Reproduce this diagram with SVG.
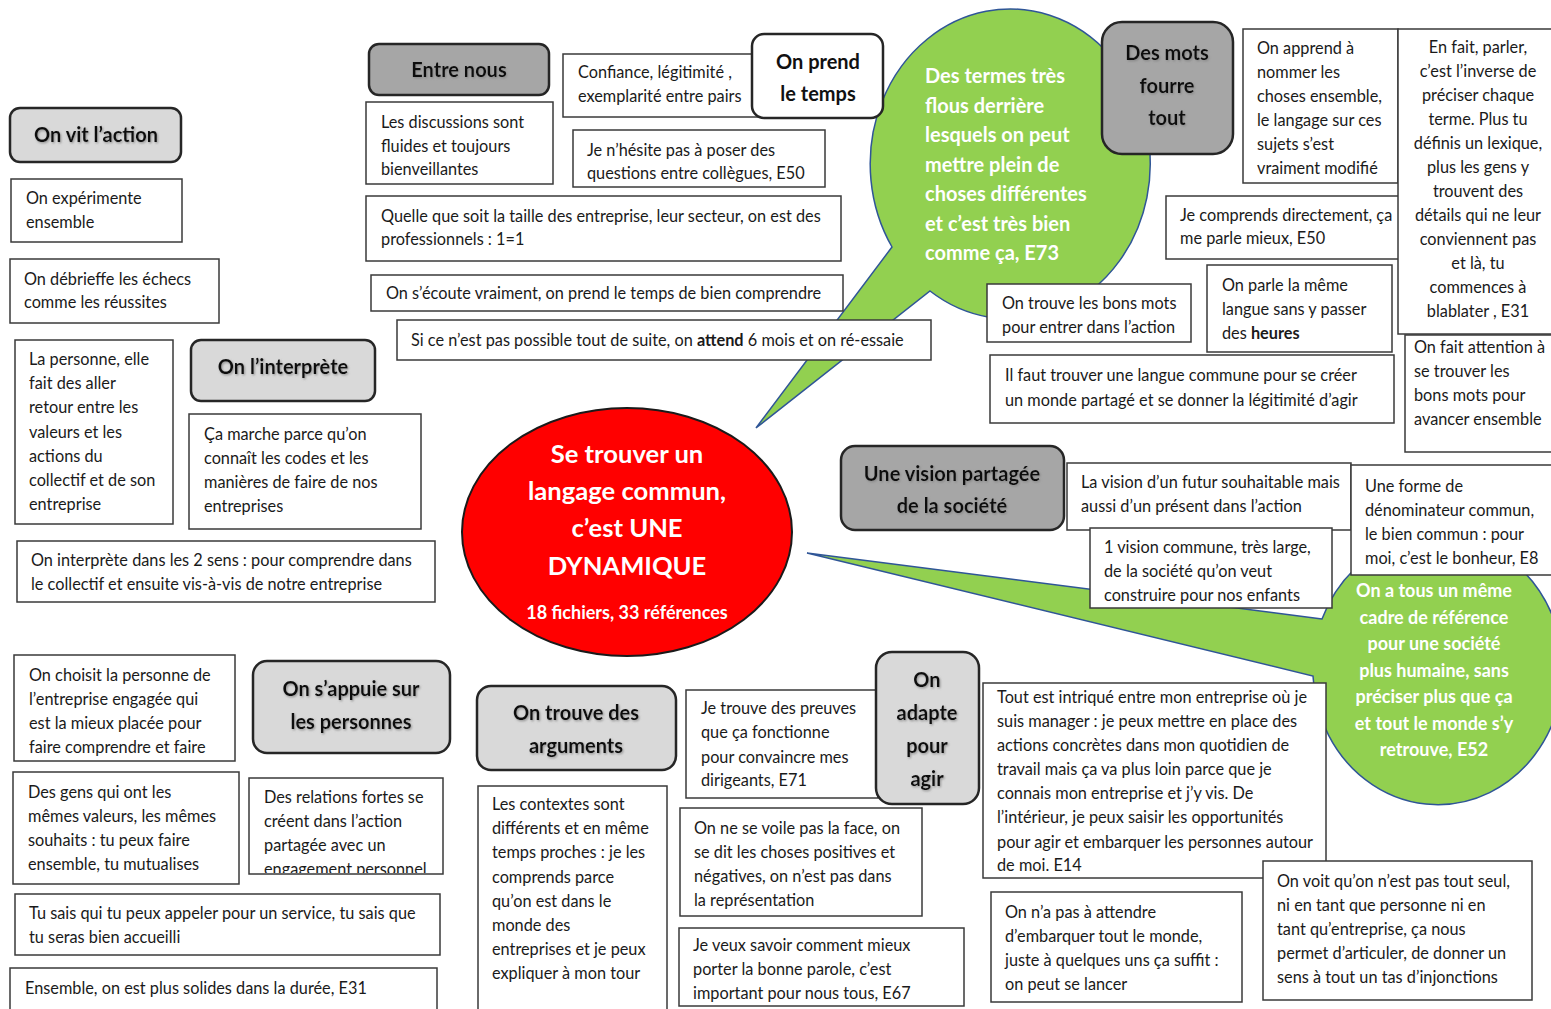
<svg xmlns="http://www.w3.org/2000/svg" width="1551" height="1009" viewBox="0 0 1551 1009">
<style>
.box{fill:#fff;stroke:#3a3a3a;stroke-width:1.5}
.hl{fill:#d9d9d9;stroke:#262626;stroke-width:2.5}
.hd{fill:#a6a6a6;stroke:#262626;stroke-width:2.5}
.hw{fill:#fff;stroke:#262626;stroke-width:2.5}
.t{font-family:Lato,"Liberation Sans",sans-serif;font-size:16.3px;fill:#1a1a1a}
.tc{text-anchor:middle}
.h{font-family:Lato,"Liberation Sans",sans-serif;font-size:20px;font-weight:bold;fill:#111;text-anchor:middle}
.g{fill:#92d050;stroke:#2f5597;stroke-width:1.5}
.gt{font-family:Lato,"Liberation Sans",sans-serif;font-size:20px;font-weight:bold;fill:#fff}
.rt{font-family:Lato,"Liberation Sans",sans-serif;font-size:25.6px;font-weight:bold;fill:#fff;text-anchor:middle}
</style>
<defs>
<filter id="sh" x="-10%" y="-20%" width="120%" height="150%"><feDropShadow dx="1" dy="1.2" stdDeviation="0.8" flood-color="#808080" flood-opacity="0.8"/></filter>
<clipPath id="c11"><rect x="249" y="778" width="194" height="95"/></clipPath>
<clipPath id="c42"><rect x="679" y="928" width="285" height="77"/></clipPath>
</defs>
<rect width="1551" height="1009" fill="#fff"/>

<g id="connectors"></g>

<g id="bubble-top">
<path class="g" d="M892,247 L756,428 L930,291 A140,155 0 1 0 892,247 Z"/>
<text class="gt" x="925" y="83">Des termes très<tspan x="925" dy="29.5">flous derrière</tspan><tspan x="925" dy="29.5">lesquels on peut</tspan><tspan x="925" dy="29.5">mettre plein de</tspan><tspan x="925" dy="29.5">choses différentes</tspan><tspan x="925" dy="29.5">et c’est très bien</tspan><tspan x="925" dy="29.5">comme ça, E73</tspan></text>
</g>

<g id="bubble-bottom">
<path class="g" d="M1322,619 L807,553 L1313,676 A125,135 0 1 0 1322,619 Z"/>
</g>

<g id="center">
<ellipse cx="627" cy="532" rx="165" ry="124" fill="#ff0000" stroke="#1a1a1a" stroke-width="2"/>
<text class="rt" x="627" y="463">Se trouver un<tspan x="627" dy="37">langage commun,</tspan><tspan x="627" dy="37">c’est UNE</tspan><tspan x="627" dy="38">DYNAMIQUE</tspan></text>
<text class="rt" x="627" y="619" style="font-size:18px">18 fichiers, 33 références</text>
</g>

<g id="n-vit">
<rect class="hl" x="10" y="108" width="171" height="54" rx="10"/>
<text class="h" x="96" y="142" filter="url(#sh)">On vit l’action</text>
</g>
<g id="n-experimente">
<rect class="box" x="11" y="179" width="171" height="63"/>
<text class="t" x="26" y="204">On expérimente<tspan x="26" dy="24">ensemble</tspan></text>
</g>
<g id="n-debrieffe">
<rect class="box" x="10" y="259" width="209" height="64"/>
<text class="t" x="24" y="285">On débrieffe les échecs<tspan x="24" dy="23">comme les réussites</tspan></text>
</g>
<g id="n-personne">
<rect class="box" x="15" y="340" width="158" height="184"/>
<text class="t" x="29" y="365">La personne, elle<tspan x="29" dy="24.2">fait des aller</tspan><tspan x="29" dy="24.2">retour entre les</tspan><tspan x="29" dy="24.2">valeurs et les</tspan><tspan x="29" dy="24.2">actions du</tspan><tspan x="29" dy="24.2">collectif et de son</tspan><tspan x="29" dy="24.2">entreprise</tspan></text>
</g>
<g id="n-interprete">
<rect class="hl" x="191" y="340" width="184" height="61" rx="10"/>
<text class="h" x="283" y="374" filter="url(#sh)">On l’interprète</text>
</g>
<g id="n-codes">
<rect class="box" x="189" y="414" width="232" height="115"/>
<text class="t" x="204" y="440">Ça marche parce qu’on<tspan x="204" dy="24">connaît les codes et les</tspan><tspan x="204" dy="24">manières de faire de nos</tspan><tspan x="204" dy="24">entreprises</tspan></text>
</g>
<g id="n-2sens">
<rect class="box" x="17" y="541" width="418" height="61"/>
<text class="t" x="31" y="566">On interprète dans les 2 sens : pour comprendre dans<tspan x="31" dy="24">le collectif et ensuite vis-à-vis de notre entreprise</tspan></text>
</g>
<g id="n-choisit">
<rect class="box" x="14" y="655" width="221" height="106"/>
<text class="t" x="29" y="681">On choisit la personne de<tspan x="29" dy="24">l’entreprise engagée qui</tspan><tspan x="29" dy="24">est la mieux placée pour</tspan><tspan x="29" dy="23.5">faire comprendre et faire</tspan></text>
</g>
<g id="n-appuie">
<rect class="hl" x="253" y="661" width="197" height="92" rx="14"/>
<text class="h" x="351" y="696" filter="url(#sh)">On s’appuie sur<tspan x="351" dy="33">les personnes</tspan></text>
</g>
<g id="n-gens">
<rect class="box" x="13" y="772" width="226" height="112"/>
<text class="t" x="28" y="798">Des gens qui ont les<tspan x="28" dy="24">mêmes valeurs, les mêmes</tspan><tspan x="28" dy="24">souhaits : tu peux faire</tspan><tspan x="28" dy="24">ensemble, tu mutualises</tspan></text>
</g>
<g id="n-relations">
<rect class="box" x="249" y="778" width="194" height="96"/>
<text class="t" x="264" y="803" clip-path="url(#c11)">Des relations fortes se<tspan x="264" dy="24">créent dans l’action</tspan><tspan x="264" dy="24">partagée avec un</tspan><tspan x="264" dy="24">engagement personnel</tspan></text>
</g>
<g id="n-tusais">
<rect class="box" x="15" y="894" width="425" height="61"/>
<text class="t" x="29" y="919">Tu sais qui tu peux appeler pour un service, tu sais que<tspan x="29" dy="24">tu seras bien accueilli</tspan></text>
</g>
<g id="n-ensemble">
<rect class="box" x="10" y="968" width="427" height="45"/>
<text class="t" x="25" y="994">Ensemble, on est plus solides dans la durée, E31</text>
</g>

<g id="n-entre">
<rect class="hd" x="369" y="44" width="180" height="51" rx="10"/>
<text class="h" x="459" y="77" filter="url(#sh)">Entre nous</text>
</g>
<g id="n-discussions">
<rect class="box" x="366" y="102" width="187" height="82"/>
<text class="t" x="381" y="128">Les discussions sont<tspan x="381" dy="23.5">fluides et toujours</tspan><tspan x="381" dy="23.5">bienveillantes</tspan></text>
</g>
<g id="n-confiance">
<rect class="box" x="563" y="54" width="197" height="63"/>
<text class="t" x="578" y="78">Confiance, légitimité ,<tspan x="578" dy="24">exemplarité entre pairs</tspan></text>
</g>
<g id="n-prend">
<rect class="hw" x="752" y="34" width="131" height="84" rx="12"/>
<text class="h" x="818" y="69">On prend<tspan x="818" dy="32">le temps</tspan></text>
</g>
<g id="n-hesite">
<rect class="box" x="573" y="130" width="252" height="57"/>
<text class="t" x="587" y="156">Je n’hésite pas à poser des<tspan x="587" dy="23">questions entre collègues, E50</tspan></text>
</g>
<g id="n-taille">
<rect class="box" x="366" y="196" width="475" height="65"/>
<text class="t" x="381" y="222">Quelle que soit la taille des entreprise, leur secteur, on est des<tspan x="381" dy="23">professionnels : 1=1</tspan></text>
</g>
<g id="n-ecoute">
<rect class="box" x="371" y="275" width="472" height="36"/>
<text class="t" x="386" y="299">On s’écoute vraiment, on prend le temps de bien comprendre</text>
</g>
<g id="n-attend">
<rect class="box" x="397" y="320" width="534" height="40"/>
<text class="t" x="411" y="346">Si ce n’est pas possible tout de suite, on <tspan font-weight="bold">attend</tspan> 6 mois et on ré-essaie</text>
</g>

<g id="n-fourre">
<rect class="hd" x="1102" y="22" width="131" height="132" rx="20"/>
<text class="h" x="1167" y="60" filter="url(#sh)">Des mots<tspan x="1167" dy="33">fourre</tspan><tspan x="1167" dy="32">tout</tspan></text>
</g>
<g id="n-apprend">
<rect class="box" x="1243" y="29" width="155" height="154"/>
<text class="t" x="1257" y="54">On apprend à<tspan x="1257" dy="24">nommer les</tspan><tspan x="1257" dy="24">choses ensemble,</tspan><tspan x="1257" dy="24">le langage sur ces</tspan><tspan x="1257" dy="24">sujets s’est</tspan><tspan x="1257" dy="24">vraiment modifié</tspan></text>
</g>
<g id="n-comprends">
<rect class="box" x="1166" y="196" width="236" height="63"/>
<text class="t" x="1180" y="221">Je comprends directement, ça<tspan x="1180" dy="23">me parle mieux, E50</tspan></text>
</g>
<g id="n-enfait">
<rect class="box" x="1398" y="29" width="156" height="305"/>
<text class="t tc" x="1478" y="53">En fait, parler,<tspan x="1478" dy="24">c’est l’inverse de</tspan><tspan x="1478" dy="24">préciser chaque</tspan><tspan x="1478" dy="24">terme. Plus tu</tspan><tspan x="1478" dy="24">définis un lexique,</tspan><tspan x="1478" dy="24">plus les gens y</tspan><tspan x="1478" dy="24">trouvent des</tspan><tspan x="1478" dy="24">détails qui ne leur</tspan><tspan x="1478" dy="24">conviennent pas</tspan><tspan x="1478" dy="24">et là, tu</tspan><tspan x="1478" dy="24">commences à</tspan><tspan x="1478" dy="24">blablater , E31</tspan></text>
</g>
<g id="n-bonsmots">
<rect class="box" x="987" y="284" width="204" height="58"/>
<text class="t" x="1002" y="309">On trouve les bons mots<tspan x="1002" dy="24">pour entrer dans l’action</tspan></text>
</g>
<g id="n-langue">
<rect class="box" x="1207" y="265" width="185" height="87"/>
<text class="t" x="1222" y="291">On parle la même<tspan x="1222" dy="24">langue sans y passer</tspan><tspan x="1222" dy="24">des <tspan font-weight="bold">heures</tspan></tspan></text>
</g>
<g id="n-ilfaut">
<rect class="box" x="990" y="355" width="404" height="68"/>
<text class="t" x="1005" y="381">Il faut trouver une langue commune pour se créer<tspan x="1005" dy="25">un monde partagé et se donner la légitimité d’agir</tspan></text>
</g>
<g id="n-attention">
<rect class="box" x="1405" y="335" width="149" height="117"/>
<text class="t" x="1414" y="353">On fait attention à<tspan x="1414" dy="24">se trouver les</tspan><tspan x="1414" dy="24">bons mots pour</tspan><tspan x="1414" dy="24">avancer ensemble</tspan></text>
</g>

<g id="n-vision">
<rect class="hd" x="841" y="446" width="223" height="84" rx="14"/>
<text class="h" x="952" y="481" filter="url(#sh)">Une vision partagée<tspan x="952" dy="32">de la société</tspan></text>
</g>
<g id="n-futur">
<rect class="box" x="1067" y="463" width="284" height="67"/>
<text class="t" x="1081" y="488">La vision d’un futur souhaitable mais<tspan x="1081" dy="24">aussi d’un présent dans l’action</tspan></text>
</g>
<g id="n-forme">
<rect class="box" x="1351" y="465" width="203" height="110"/>
<text class="t" x="1365" y="492">Une forme de<tspan x="1365" dy="24">dénominateur commun,</tspan><tspan x="1365" dy="24">le bien commun : pour</tspan><tspan x="1365" dy="24">moi, c’est le bonheur, E8</tspan></text>
</g>
<g id="n-enfants">
<rect class="box" x="1090" y="528" width="242" height="80"/>
<text class="t" x="1104" y="553">1 vision commune, très large,<tspan x="1104" dy="24">de la société qu’on veut</tspan><tspan x="1104" dy="24">construire pour nos enfants</tspan></text>
</g>
<g id="bubble-bottom-text">
<text class="gt tc" x="1434" y="597" style="font-size:18px">On a tous un même<tspan x="1434" dy="26.5">cadre de référence</tspan><tspan x="1434" dy="26.5">pour une société</tspan><tspan x="1434" dy="26.5">plus humaine, sans</tspan><tspan x="1434" dy="26.5">préciser plus que ça</tspan><tspan x="1434" dy="26.5">et tout le monde s’y</tspan><tspan x="1434" dy="26.5">retrouve, E52</tspan></text>
</g>

<g id="n-arguments">
<rect class="hl" x="477" y="686" width="199" height="84" rx="14"/>
<text class="h" x="576" y="720" filter="url(#sh)">On trouve des<tspan x="576" dy="33">arguments</tspan></text>
</g>
<g id="n-contextes">
<rect class="box" x="478" y="786" width="189" height="228"/>
<text class="t" x="492" y="810">Les contextes sont<tspan x="492" dy="24.2">différents et en même</tspan><tspan x="492" dy="24.2">temps proches : je les</tspan><tspan x="492" dy="24.2">comprends parce</tspan><tspan x="492" dy="24.2">qu’on est dans le</tspan><tspan x="492" dy="24.2">monde des</tspan><tspan x="492" dy="24.2">entreprises et je peux</tspan><tspan x="492" dy="24.2">expliquer à mon tour</tspan></text>
</g>
<g id="n-preuves">
<rect class="box" x="686" y="690" width="192" height="108"/>
<text class="t" x="701" y="714">Je trouve des preuves<tspan x="701" dy="24">que ça fonctionne</tspan><tspan x="701" dy="24.5">pour convaincre mes</tspan><tspan x="701" dy="23.5">dirigeants, E71</tspan></text>
</g>
<g id="n-adapte">
<rect class="hl" x="876" y="652" width="103" height="152" rx="16"/>
<text class="h" x="927" y="687" filter="url(#sh)">On<tspan x="927" dy="33">adapte</tspan><tspan x="927" dy="33">pour</tspan><tspan x="927" dy="33">agir</tspan></text>
</g>
<g id="n-voile">
<rect class="box" x="680" y="808" width="242" height="108"/>
<text class="t" x="694" y="834">On ne se voile pas la face, on<tspan x="694" dy="24">se dit les choses positives et</tspan><tspan x="694" dy="24">négatives, on n’est pas dans</tspan><tspan x="694" dy="23.5">la représentation</tspan></text>
</g>
<g id="n-parole">
<rect class="box" x="679" y="928" width="285" height="78"/>
<text class="t" x="693" y="951" clip-path="url(#c42)">Je veux savoir comment mieux<tspan x="693" dy="24">porter la bonne parole, c’est</tspan><tspan x="693" dy="24">important pour nous tous, E67</tspan></text>
</g>
<g id="n-intrique">
<rect class="box" x="983" y="683" width="343" height="195"/>
<text class="t" x="997" y="703">Tout est intriqué entre mon entreprise où je<tspan x="997" dy="24">suis manager : je peux mettre en place des</tspan><tspan x="997" dy="24">actions concrètes dans mon quotidien de</tspan><tspan x="997" dy="24">travail mais ça va plus loin parce que je</tspan><tspan x="997" dy="24">connais mon entreprise et j’y vis. De</tspan><tspan x="997" dy="24">l’intérieur, je peux saisir les opportunités</tspan><tspan x="997" dy="24.5">pour agir et embarquer les personnes autour</tspan><tspan x="997" dy="23.5">de moi. E14</tspan></text>
</g>
<g id="n-attendre">
<rect class="box" x="991" y="892" width="251" height="110"/>
<text class="t" x="1005" y="918">On n’a pas à attendre<tspan x="1005" dy="24">d’embarquer tout le monde,</tspan><tspan x="1005" dy="24">juste à quelques uns ça suffit :</tspan><tspan x="1005" dy="24">on peut se lancer</tspan></text>
</g>
<g id="n-seul">
<rect class="box" x="1263" y="861" width="269" height="139"/>
<text class="t" x="1277" y="887">On voit qu’on n’est pas tout seul,<tspan x="1277" dy="24">ni en tant que personne ni en</tspan><tspan x="1277" dy="24">tant qu’entreprise, ça nous</tspan><tspan x="1277" dy="24">permet d’articuler, de donner un</tspan><tspan x="1277" dy="24">sens à tout un tas d’injonctions</tspan></text>
</g>
</svg>
